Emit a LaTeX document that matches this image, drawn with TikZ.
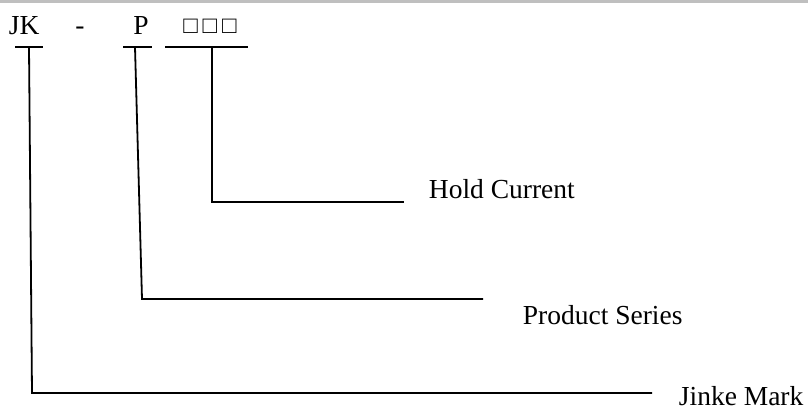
\documentclass[tikz,border=0pt]{standalone}
\usepackage{fontspec}
\setmainfont{Liberation Serif}
\usetikzlibrary{calc}

\begin{document}
\begin{tikzpicture}[x=1pt,y=-1pt,line width=1.8pt,
    lbl/.style={anchor=base west,inner sep=0pt,font=\fontsize{27.5}{33}\selectfont}]
            \useasboundingbox (0,0) rectangle (808,410);
            \draw[line width=3pt,black!25] (0,1.5)--(808,1.5);
            \node[lbl] (jk) at (8,34){JK};
            \node[lbl,anchor=base] (dash) at (80,34){-};
            \node[lbl,anchor=base] (p) at (141,34){P};
            \node[lbl,anchor=base,font=\fontsize{24}{28}\selectfont] (boxes) at (210,33){□\hspace{5pt}□\hspace{5pt}□};
            % ticks under the code letters
            \coordinate (jkl) at (15,47);
            \coordinate (jkr) at (43,47);
            \coordinate (jktop) at (29,47);
            \coordinate (jkcorner) at (32,393);
            \coordinate (jkend) at (652,393);
            \coordinate (pl) at (123,47);
            \coordinate (pr) at (152,47);
            \coordinate (ptop) at (135,47);
            \coordinate (pcorner) at (142,299);
            \coordinate (pend) at (483,299);
            \coordinate (bl) at (165,47);
            \coordinate (br) at (248,47);
            \coordinate (btop) at (212,47);
            \coordinate (bcorner) at (212,202);
            \coordinate (bend) at (404,202);
            \draw (jkl)--(jkr);
            \draw (pl)--(pr);
            \draw (bl)--(br);
            \draw (jktop)--(jkcorner)--(jkend);
            \draw (ptop)--(pcorner)--(pend);
            \draw (btop)--(bcorner)--(bend);
            \node[lbl] (hold) at (428,198){Hold Current};
            \node[lbl] (series) at (522,324){Product Series};
            \node[lbl] (mark) at (678,405){Jinke Mark};
        \end{tikzpicture}
\end{document}
